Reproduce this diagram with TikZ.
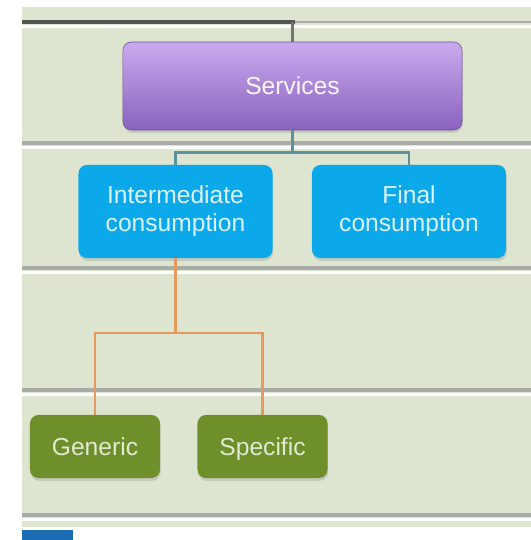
\documentclass[tikz,border=0pt]{standalone}
\usepackage{fontspec}
\setmainfont{Liberation Sans}
\usetikzlibrary{shadows}
\definecolor{panel}{HTML}{DDE5D1}
\definecolor{bandgrey}{HTML}{A9ABA8}
\definecolor{srvtop}{HTML}{CAAAEE}
\definecolor{srvbot}{HTML}{8A62BE}
\definecolor{consblue}{HTML}{0BA9EA}
\definecolor{kindgreen}{HTML}{6E8F2A}
\definecolor{linkteal}{HTML}{5A939E}
\definecolor{linkorange}{HTML}{E49A5C}
\definecolor{cornerblue}{HTML}{1A6DB3}
\begin{document}
\begin{tikzpicture}[x=0.025cm, y=-0.025cm,
        box/.style={rounded corners=6pt, align=center, inner sep=0pt,
            font=\fontsize{17.5}{20}\selectfont, drop shadow={opacity=0.25, shadow xshift=0.5pt, shadow yshift=-2pt}},
        srvbox/.style={box, top color=srvtop, bottom color=srvbot, draw=srvbot!80!black, text=white!90!srvtop,
            minimum width=8.475cm, minimum height=2.2cm, text height=12.5pt, text depth=0pt},
        consbox/.style={box, fill=consblue, text=white!85!consblue, minimum width=4.85cm, minimum height=2.325cm},
        kindbox/.style={box, fill=kindgreen, text=white!80!kindgreen, minimum width=3.25cm, minimum height=1.575cm,
            text height=12.5pt, text depth=0pt},
        bandline/.style={line width=3pt, bandgrey},
        teal link/.style={linkteal, line width=1.8pt},
        orange link/.style={linkorange, line width=1.5pt}]
    \useasboundingbox (0,0) rectangle (531,540);
    % background panel with its grey bands
    \fill[panel] (22,7) rectangle (531,527);
    \foreach \y in {143,268,390,515} {
        \fill[white] (22,\y+3) rectangle (531,\y+6);
        \draw[bandline] (22,\y) -- (531,\y);
    }
    \fill[white] (22,25) rectangle (531,28);
    \draw[bandline, line width=2pt] (295,22) -- (531,22);
    \draw[line width=3pt, black!50!bandgrey] (22,22) -- (295,22);
    \fill[cornerblue] (22,530) rectangle (73,540);

    \node[srvbox] (srv) at (292.5,86) {Services};
    \node[consbox] (inter) at (175.5,211.5) {Intermediate\\consumption};
    \node[consbox] (final) at (409,211.5) {Final\\consumption};
    \node[kindbox] (gen) at (95,446.5) {Generic};
    \node[kindbox] (spec) at (262.5,446.5) {Specific};

    \coordinate (top) at (292.5,22);
    \draw[line width=2pt, black!55] (top) -- (srv.north);
    \draw[teal link] (srv.south) -- ++(0,22) coordinate (tj);
    \draw[teal link] (tj) -| (inter.north);
    \draw[teal link] (tj) -| (final.north);
    \draw[orange link] (inter.south) -- ++(0,75) coordinate (oj);
    \draw[orange link] (oj) -| (gen.north);
    \draw[orange link] (oj) -| (spec.north);
\end{tikzpicture}
\end{document}
